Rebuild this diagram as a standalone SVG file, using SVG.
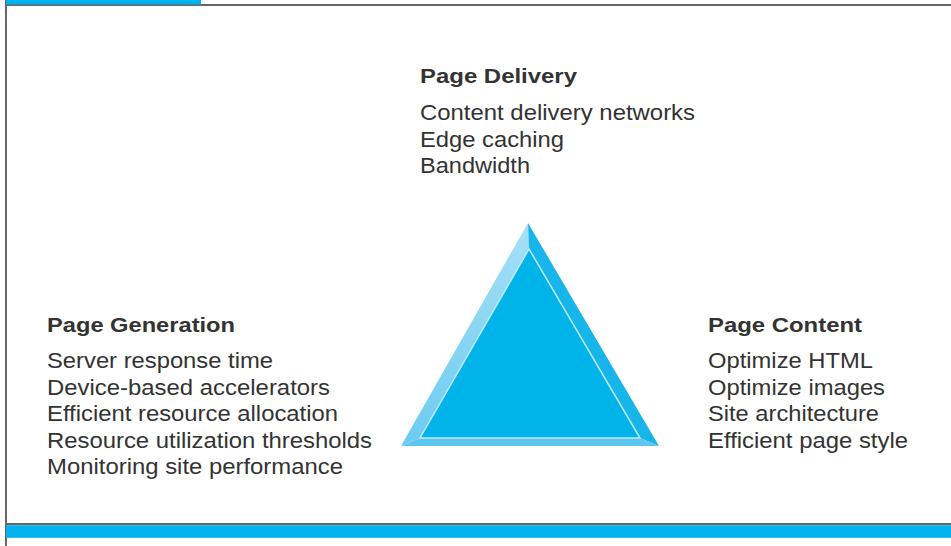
<svg xmlns="http://www.w3.org/2000/svg" width="951" height="546" viewBox="0 0 951 546">
<style>
.h{font-family:"Liberation Sans",Arial,sans-serif;font-weight:bold;font-size:20.5px;fill:#333}
.t{font-family:"Liberation Sans",Arial,sans-serif;font-size:21.5px;fill:#333}
</style>
<defs>
<linearGradient id="lf" x1="0" y1="0" x2="0" y2="1">
<stop offset="0" stop-color="#a6e0f6"/><stop offset="1" stop-color="#6ccbf1"/>
</linearGradient>
</defs>
<rect width="951" height="546" fill="#fff"/>
<g id="frame">
<rect x="5" y="0" width="2" height="546" fill="#666"/>
<rect x="6" y="4" width="945" height="2" fill="#666"/>
<rect x="6" y="0" width="195" height="4.5" fill="#00b2ee"/>
<rect x="6" y="523" width="945" height="2.3" fill="#666"/>
<rect x="6" y="525.3" width="945" height="12.5" fill="#00b2ee"/>
</g>
<g id="triangle">
<polygon points="528,223 401,446 420,438 529,249" fill="url(#lf)"/>
<polygon points="528,223 659,446 640,438 529,249" fill="#18b5ea"/>
<polygon points="401,446 659,446 640,438 420,438" fill="#5cc6ef"/>
<polygon points="529,249 420,438 640,438" fill="#00b4ea" stroke="#bfe9f9" stroke-width="1.5" stroke-linejoin="miter"/>
</g>
<g id="page-delivery">
<text class="h" x="420" y="83" textLength="157" lengthAdjust="spacingAndGlyphs">Page Delivery</text>
<text class="t" x="420" y="120" textLength="275" lengthAdjust="spacingAndGlyphs">Content delivery networks</text>
<text class="t" x="420" y="146.5" textLength="144" lengthAdjust="spacingAndGlyphs">Edge caching</text>
<text class="t" x="420" y="173" textLength="110" lengthAdjust="spacingAndGlyphs">Bandwidth</text>
</g>
<g id="page-generation">
<text class="h" x="47" y="331.5" textLength="188" lengthAdjust="spacingAndGlyphs">Page Generation</text>
<text class="t" x="47" y="368" textLength="226" lengthAdjust="spacingAndGlyphs">Server response time</text>
<text class="t" x="47" y="394.5" textLength="283" lengthAdjust="spacingAndGlyphs">Device-based accelerators</text>
<text class="t" x="47" y="421" textLength="291" lengthAdjust="spacingAndGlyphs">Efficient resource allocation</text>
<text class="t" x="47" y="447.5" textLength="325" lengthAdjust="spacingAndGlyphs">Resource utilization thresholds</text>
<text class="t" x="47" y="474" textLength="296" lengthAdjust="spacingAndGlyphs">Monitoring site performance</text>
</g>
<g id="page-content">
<text class="h" x="708" y="331.5" textLength="154" lengthAdjust="spacingAndGlyphs">Page Content</text>
<text class="t" x="708" y="368" textLength="165" lengthAdjust="spacingAndGlyphs">Optimize HTML</text>
<text class="t" x="708" y="394.5" textLength="177" lengthAdjust="spacingAndGlyphs">Optimize images</text>
<text class="t" x="708" y="421" textLength="171" lengthAdjust="spacingAndGlyphs">Site architecture</text>
<text class="t" x="708" y="447.5" textLength="200" lengthAdjust="spacingAndGlyphs">Efficient page style</text>
</g>
<g id="connectors"/>
</svg>
